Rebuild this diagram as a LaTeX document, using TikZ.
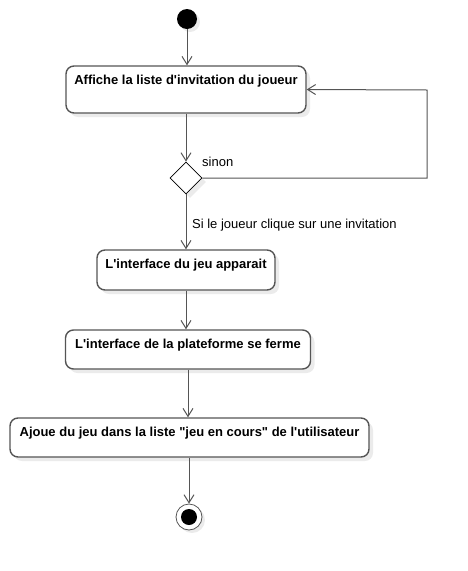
\documentclass[tikz,border=0pt]{standalone}
\usepackage{fontspec}
\setmainfont{Liberation Sans}[Ligatures=TeXOff]
\usetikzlibrary{shapes.geometric,arrows.meta,shadows}

\definecolor{trait}{HTML}{555555}
\tikzset{
  act/.style={draw=trait, line width=1.4pt, rounded corners=8, fill=white,
    inner sep=0pt, font=\fontsize{13}{15}\selectfont\bfseries,
    drop shadow={shadow xshift=4pt, shadow yshift=-4pt, fill=black!8, opacity=1},
    text height=18pt},
  fleche/.style={draw=trait, line width=1pt, -{Straight Barb[length=8pt,width=10pt]}},
  garde/.style={font=\fontsize{13}{15}\selectfont, anchor=base west, inner sep=0pt}
}

\begin{document}
\begin{tikzpicture}[x=1pt, y=-1pt]
    \useasboundingbox (0,0) rectangle (467,571);
    % noeuds
    \node[circle, fill=black, minimum size=20pt, inner sep=0pt,
      drop shadow={shadow xshift=3pt, shadow yshift=-3pt, fill=black!8, opacity=1}] (debut) at (187,19) {};
    \node[act, minimum width=240pt, minimum height=47pt, text depth=29pt] (affiche) at (186,89.5)
      {Affiche la liste d'invitation du joueur};
    \node[diamond, draw=black, line width=0.8pt, fill=white, minimum size=32pt, inner sep=0pt,
      drop shadow={shadow xshift=4pt, shadow yshift=-4pt, fill=black!8, opacity=1}] (choix) at (186,178) {};
    \node[act, minimum width=178pt, minimum height=40pt, text depth=22pt] (interface) at (186,270)
      {L'interface du jeu apparait};
    \node[act, minimum width=245pt, minimum height=39pt, text depth=21pt] (fermeture) at (188,349.5)
      {L'interface de la plateforme se ferme};
    \node[act, minimum width=359pt, minimum height=39pt, text depth=21pt] (ajout) at (189.5,437.5)
      {Ajoue du jeu dans la liste "jeu en cours" de l'utilisateur};
    \node[circle, draw=trait, line width=0.8pt, fill=white, minimum size=26pt, inner sep=0pt,
      drop shadow={shadow xshift=3pt, shadow yshift=-3pt, fill=black!8, opacity=1}] (fin) at (189,517) {};
    \fill (fin) circle (8pt);
    \coordinate (coin1) at (427,178);
    \coordinate (coin2) at (427,90);
    % transitions
    \draw[fleche] (debut) -- (affiche.north -| debut);
    \draw[fleche] (affiche.south) -- (choix.north);
    \draw[fleche] (choix.east) -- (coin1) -- (coin2) -- (affiche.east);
    \draw[fleche] (choix.south) -- (interface.north -| choix);
    \draw[fleche] (interface.south) -- (interface.south |- fermeture.north);
    \draw[fleche] (fermeture.south) -- (fermeture.south |- ajout.north);
    \draw[fleche] (ajout.south -| fin) -- (fin);
    % gardes
    \node[garde] (sinon) at (202,166) {sinon};
    \node[garde] (clic) at (192,228) {Si le joueur clique sur une invitation};
\end{tikzpicture}
\end{document}
